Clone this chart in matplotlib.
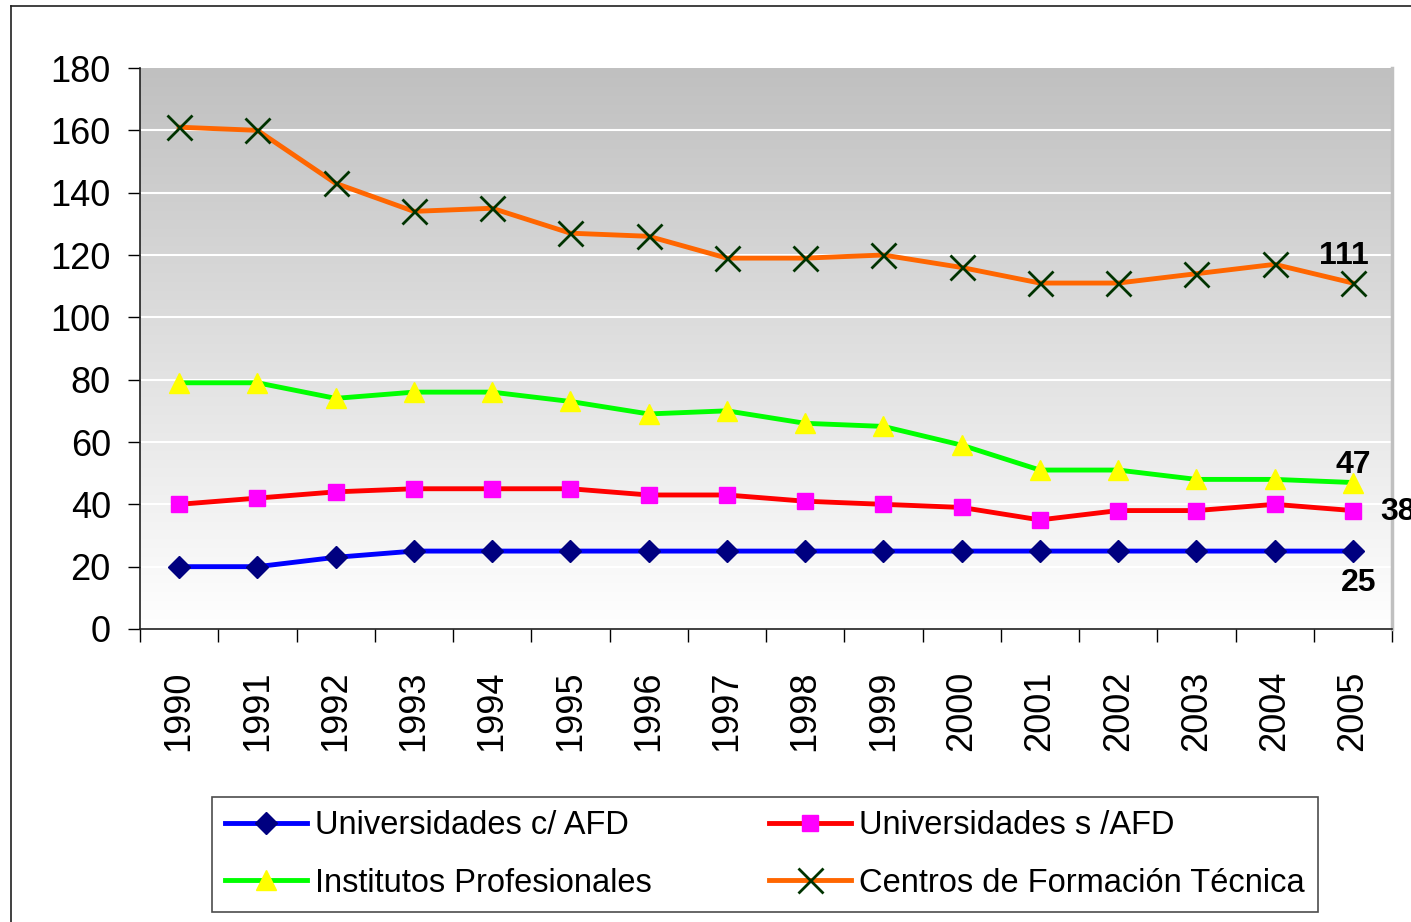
import numpy as np
import matplotlib
matplotlib.use("Agg")
import matplotlib.pyplot as plt
from matplotlib.lines import Line2D

#data
years = ["1990", "1991", "1992", "1993", "1994", "1995", "1996", "1997",
         "1998", "1999", "2000", "2001", "2002", "2003", "2004", "2005"]

univ_c_afd = [20, 20, 23, 25, 25, 25, 25, 25, 25, 25, 25, 25, 25, 25, 25, 25]
univ_s_afd = [40, 42, 44, 45, 45, 45, 43, 43, 41, 40, 39, 35, 38, 38, 40, 38]
institutos = [79, 79, 74, 76, 76, 73, 69, 70, 66, 65, 59, 51, 51, 48, 48, 47]
centros = [161, 160, 143, 134, 135, 127, 126, 119, 119, 120, 116, 111, 111, 114, 117, 111]

names = ["Universidades c/ AFD", "Universidades s /AFD",
         "Institutos Profesionales", "Centros de Formación Técnica"]

yticks = [0, 20, 40, 60, 80, 100, 120, 140, 160, 180]

#_____________________________________________________________________________
def main():

    plt.rcParams["font.family"] = ["Liberation Sans", "DejaVu Sans"]

    fig = plt.figure(figsize=(14.11, 9.22), dpi=100)
    ax = fig.add_axes([140/1411., 1-629/922., (1392-140)/1411., (629-68)/922.])

    x = np.arange(len(years))

    #gradient background of the plot area
    grad = np.linspace(0, 1, 256).reshape(-1, 1)
    ax.imshow(grad, cmap=gray_map(), extent=[-0.5, len(years)-0.5, 0, 180],
              aspect="auto", origin="upper", zorder=0)

    #white grid lines
    for v in yticks[1:-1]:
        ax.axhline(v, color="white", lw=1.5, zorder=1)

    h1, = ax.plot(x, univ_c_afd, "-", color="#0000ff", lw=3.5, marker="D", ms=11,
                  mfc="#000080", mec="#000080", zorder=3)
    h2, = ax.plot(x, univ_s_afd, "-", color="#ff0000", lw=3.5, marker="s", ms=12,
                  mfc="#ff00ff", mec="#ff00ff", zorder=3)
    h3, = ax.plot(x, institutos, "-", color="#00ff00", lw=3.5, marker="^", ms=15,
                  mfc="#ffff00", mec="#ffff00", zorder=3)
    h4, = ax.plot(x, centros, "-", color="#ff6600", lw=3.5, marker="x", ms=18,
                  mew=2, mec="#003300", zorder=3)

    #labels on the last points
    last = len(years)-1
    lab = dict(fontsize=23, fontweight="bold", color="black", zorder=5)
    ax.text(last-0.12, centros[-1]+4.0, str(centros[-1]), ha="center", va="bottom", **lab)
    ax.text(last, institutos[-1]+0.8, str(institutos[-1]), ha="center", va="bottom", **lab)
    ax.text(last+0.35, univ_s_afd[-1]-0.5, str(univ_s_afd[-1]), ha="left", va="center",
            clip_on=False, **lab)
    ax.text(last+0.07, univ_c_afd[-1]-5.5, str(univ_c_afd[-1]), ha="center", va="top", **lab)

    #axes
    ax.set_xlim(-0.5, len(years)-0.5)
    ax.set_ylim(0, 180)
    ax.set_yticks(yticks)
    ax.tick_params(axis="y", labelsize=26, length=9, width=1, pad=12, direction="out")
    ax.set_xticks(x)
    ax.set_xticklabels(years, rotation=90)
    ax.tick_params(axis="x", which="major", labelsize=26, length=0, pad=30)
    ax.set_xticks(np.arange(len(years)+1)-0.5, minor=True)
    ax.tick_params(axis="x", which="minor", length=9, width=1, direction="out")

    ax.spines["top"].set_visible(False)
    ax.spines["left"].set_color("#202020")
    ax.spines["bottom"].set_color("#202020")
    ax.spines["left"].set_linewidth(1.2)
    ax.spines["bottom"].set_linewidth(1.2)
    ax.spines["right"].set_color("#c0c0c0")
    ax.spines["right"].set_linewidth(2.5)

    #legend, filled by columns so put the entries in row order
    leg = fig.legend([h1, h3, h2, h4], [names[0], names[2], names[1], names[3]],
                     ncol=2, loc="center", bbox_to_anchor=(765/1411., 1-854.5/922.),
                     fontsize=23.5, frameon=True, fancybox=False, edgecolor="#202020",
                     handlelength=2.5, handletextpad=0.25, columnspacing=3.6,
                     labelspacing=0.8, borderpad=0.4, borderaxespad=0, numpoints=1)
    leg.get_frame().set_linewidth(1.2)

    #outer chart border
    fig.add_artist(Line2D([11/1411., 11/1411.], [0, 1-6/922.], color="#202020", lw=1.2))
    fig.add_artist(Line2D([11/1411., 1], [1-6/922., 1-6/922.], color="#202020", lw=1.2))

    fig.savefig("out.png", dpi=100)

#main

#_____________________________________________________________________________
def gray_map():

    from matplotlib.colors import LinearSegmentedColormap
    return LinearSegmentedColormap.from_list("wall", ["#c0c0c0", "#ffffff"])

#gray_map

#_____________________________________________________________________________
if __name__ == "__main__":

    main()
